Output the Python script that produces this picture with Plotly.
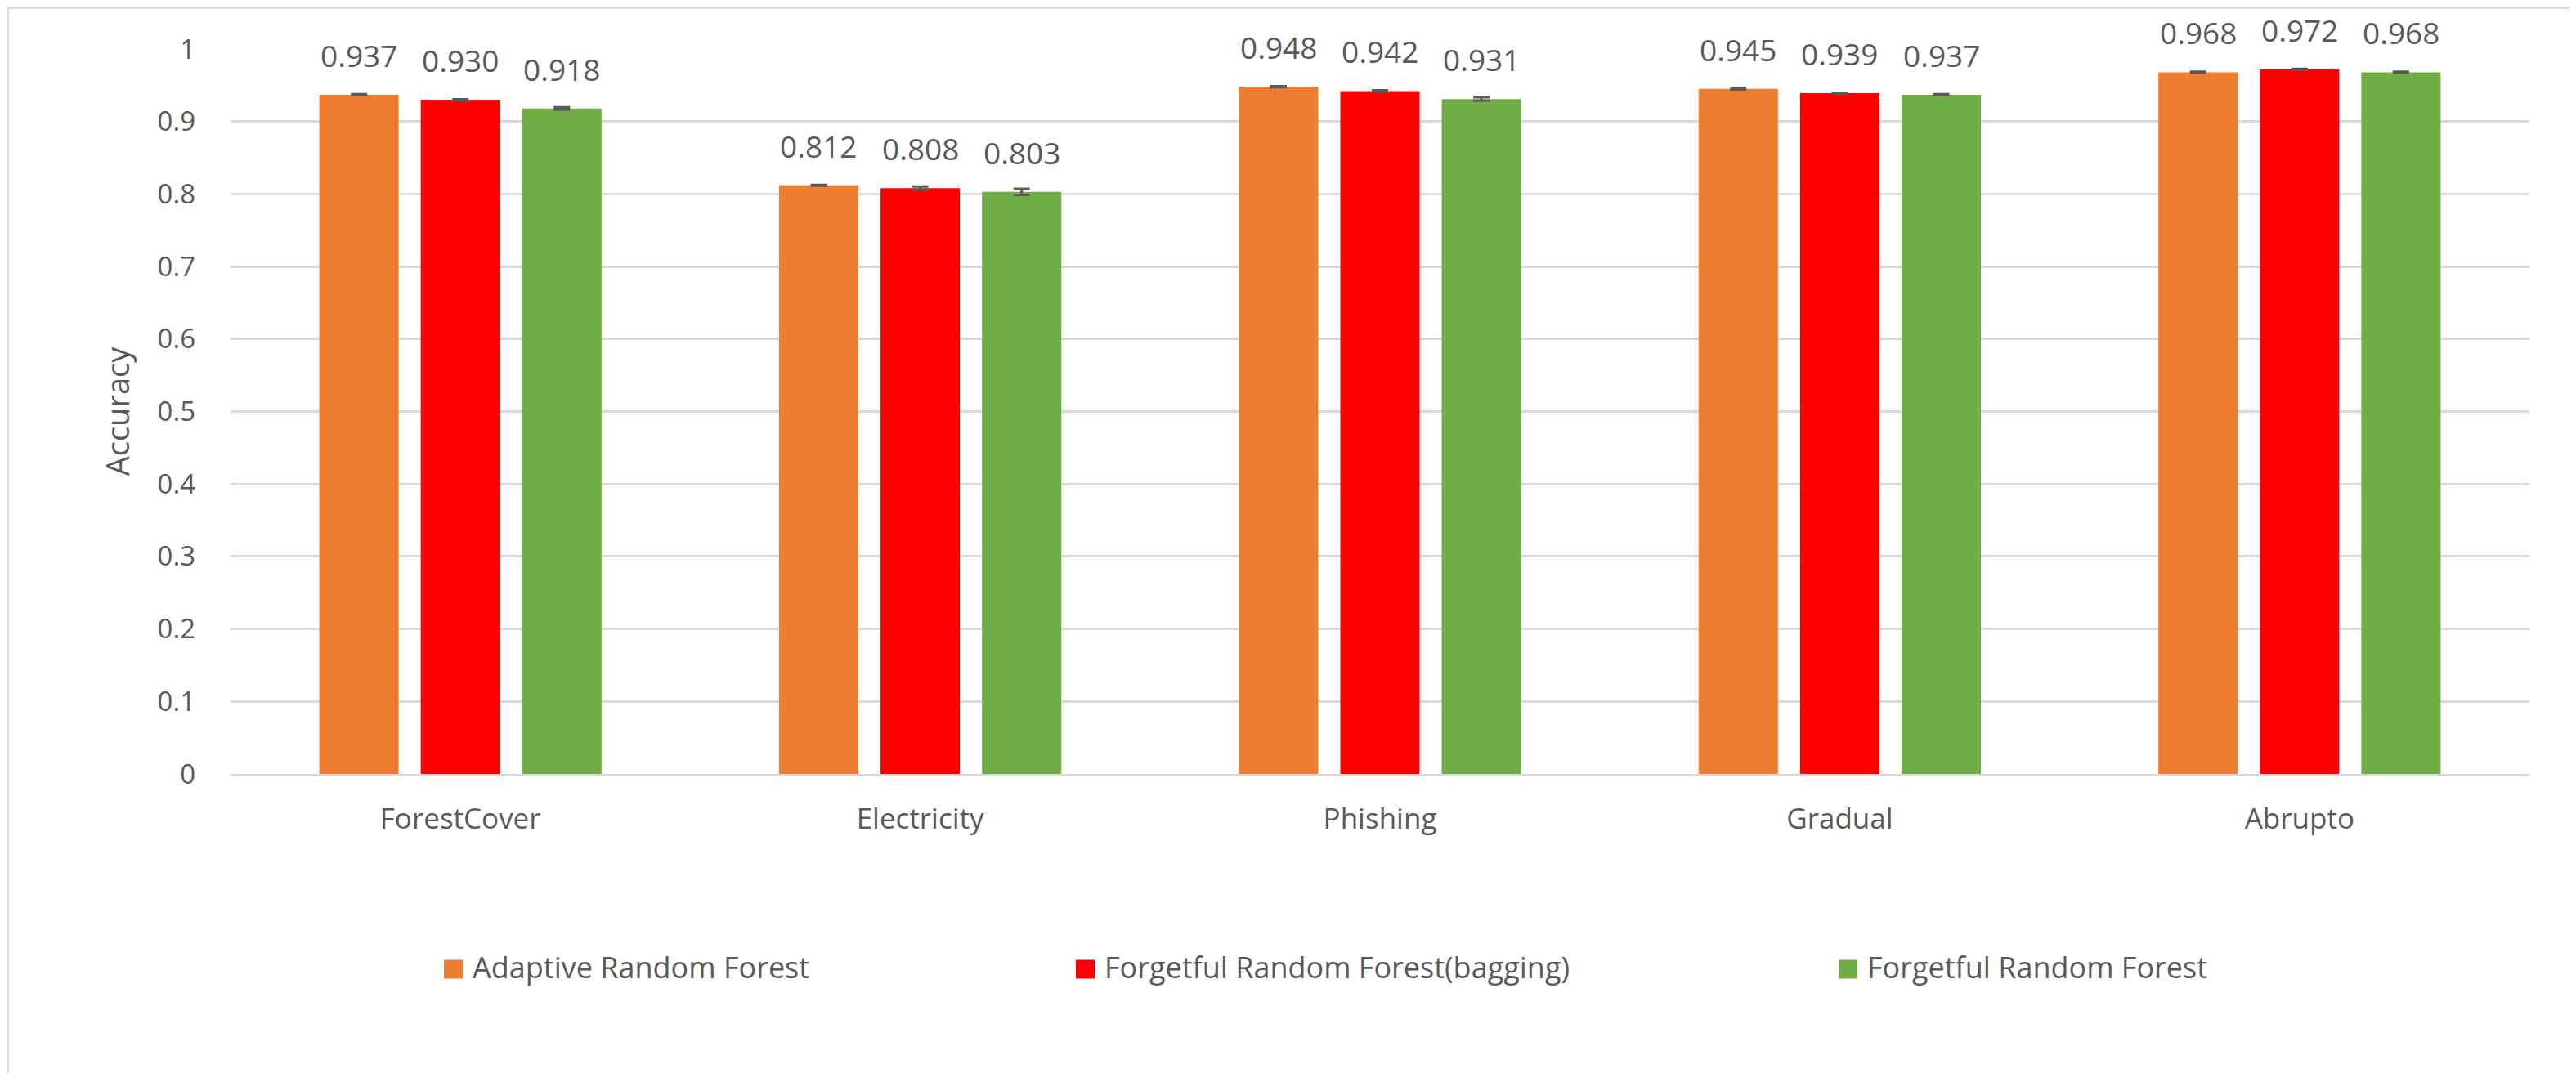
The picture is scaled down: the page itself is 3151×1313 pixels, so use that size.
import plotly.graph_objects as go

datasets = ["ForestCover", "Electricity", "Phishing", "Gradual", "Abrupto"]
series_names = ["Adaptive Random Forest", "Forgetful Random Forest(bagging)", "Forgetful Random Forest"]
arf = [0.937, 0.812, 0.948, 0.945, 0.968]
frf_bagging = [0.930, 0.808, 0.942, 0.939, 0.972]
frf = [0.918, 0.803, 0.931, 0.937, 0.968]
arf_err = [0.0008, 0.0005, 0.0006, 0.0007, 0.0007]
frf_bagging_err = [0.0007, 0.0023, 0.0011, 0.0007, 0.0007]
frf_err = [0.0017, 0.0041, 0.0024, 0.0006, 0.0007]
y_ticks = [0, 0.1, 0.2, 0.3, 0.4, 0.5, 0.6, 0.7, 0.8, 0.9, 1]

colors = ["#ED7D31", "#FF0000", "#70AD47"]
text_color = "#595959"
grid_color = "#D9D9D9"
font_name = "Open Sans"

W, H = 3151, 1313
ml, mr, mt, mb = 274, 65, 52, 374
plot_w = W - ml - mr
plot_h = H - mt - mb
bargap = 0.338
bargroupgap = 0.218
slot = plot_w / len(datasets) * (1 - bargap) / 3

values = [arf, frf_bagging, frf]
errors = [arf_err, frf_bagging_err, frf_err]

fig = go.Figure()
for k in range(3):
    fig.add_trace(go.Bar(
        x=datasets, y=values[k], name=series_names[k],
        marker=dict(color=colors[k], line=dict(width=0)),
        error_y=dict(type="data", array=errors[k], visible=True,
                     color=text_color, thickness=3, width=10),
        showlegend=False,
    ))

# data labels above each bar
for k in range(3):
    for i, cat in enumerate(datasets):
        fig.add_annotation(
            x=cat, y=values[k][i], xref="x", yref="y",
            text=f"{values[k][i]:.3f}", showarrow=False,
            xanchor="center", yanchor="bottom",
            xshift=(k - 1) * slot, yshift=21,
            font=dict(family=font_name, size=37, color=text_color),
        )

# legend drawn below the plot
legend_left = [535, 1308, 2241]
sq = 23
leg_mid = 1178
text_mid = 1175.5
for k in range(3):
    x0 = (legend_left[k] - ml) / plot_w
    x1 = (legend_left[k] + sq - ml) / plot_w
    y0 = (mt + plot_h - (leg_mid - sq / 2)) / plot_h
    y1 = (mt + plot_h - (leg_mid + sq / 2)) / plot_h
    fig.add_shape(type="rect", xref="paper", yref="paper",
                  x0=x0, x1=x1, y0=y0, y1=y1,
                  fillcolor=colors[k], line=dict(width=0))
    fig.add_annotation(
        x=(legend_left[k] + sq + 10 - ml) / plot_w,
        y=(mt + plot_h - text_mid) / plot_h,
        xref="paper", yref="paper", text=series_names[k], showarrow=False,
        xanchor="left", yanchor="middle",
        font=dict(family=font_name, size=36, color=text_color),
    )

# chart area border
fig.add_shape(type="rect", xref="paper", yref="paper",
              x0=(1.5 - ml) / plot_w, x1=(W - 1.5 - ml) / plot_w,
              y0=(mt + plot_h - (H - 1.5)) / plot_h, y1=(mt + plot_h - 1.5) / plot_h,
              line=dict(color=grid_color, width=3), fillcolor="rgba(0,0,0,0)")

fig.update_layout(
    width=W, height=H,
    margin=dict(l=ml, r=mr, t=mt, b=mb),
    paper_bgcolor="white", plot_bgcolor="white",
    barmode="group", bargap=bargap, bargroupgap=bargroupgap,
    font=dict(family=font_name, color=text_color),
    xaxis=dict(
        type="category", showgrid=False, showline=True,
        linecolor=grid_color, linewidth=3, ticks="",
        tickfont=dict(family=font_name, size=35, color=text_color),
        ticklabelstandoff=22,
    ),
    yaxis=dict(
        range=[0, 1], tickvals=y_ticks, ticktext=[f"{t:g}" for t in y_ticks],
        showgrid=True, gridcolor=grid_color, gridwidth=3,
        zeroline=False, showline=False, ticks="",
        tickfont=dict(family=font_name, size=33, color=text_color),
        ticklabelstandoff=42,
        title=dict(text="Accuracy", standoff=22,
                   font=dict(family=font_name, size=38, color=text_color)),
    ),
)

fig.write_html("out.html")
